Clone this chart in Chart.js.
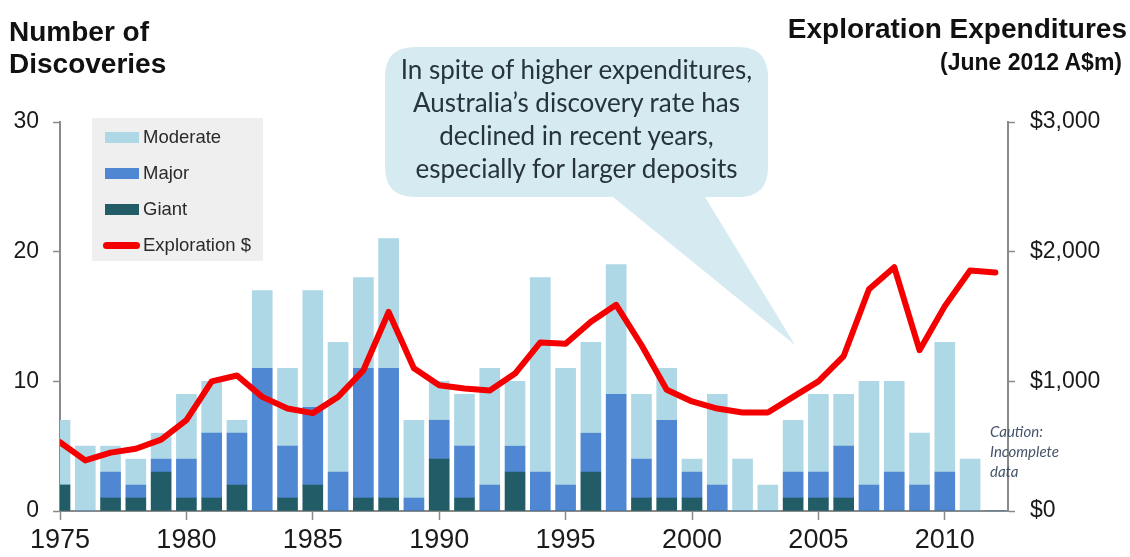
<!DOCTYPE HTML>
<html>
<head>
  <meta charset='utf-8'>
  <title>Discoveries vs exploration expenditure</title>
  <script src='https://cdn.jsdelivr.net/npm/chart.js'></script>
  <style>
    body { margin: 0; background: #fff; }
    #wrap { position: relative; width: 1130px; height: 557px; font-family: 'Liberation Sans', Arial, sans-serif; }
    #wrap canvas { position: absolute; left: 0; top: 0; }
    .ttl { position: absolute; font-weight: bold; color: #111; }
    #leftTitle { left: 9px; top: 16px; font-size: 28px; line-height: 32px; }
    #rightTitle { right: 3px; top: 13px; font-size: 28px; line-height: 32px; text-align: right; }
    #rightSub { right: 8px; top: 48px; font-size: 23px; line-height: 28px; }
    #bubble { position: absolute; left: 0; top: 0; }
    #bubbleText { position: absolute; left: 380px; top: 53px; width: 393px; text-align: center;
      font-family: Lato, 'Open Sans', sans-serif; font-size: 26px; line-height: 33px; color: #27343c; }
    #caution { position: absolute; left: 990px; top: 421px; font-family: Lato, sans-serif; font-style: italic;
      font-size: 15px; line-height: 20px; color: #44546a; }
    #legend { position: absolute; left: 92px; top: 118px; width: 171px; height: 143px; background: #efefef; }
    .lg-row { position: absolute; left: 0; height: 24px; width: 171px; }
    .lg-sw { position: absolute; left: 13px; width: 34px; }
    .lg-tx { position: absolute; left: 51px; top: 0; font-size: 18.5px; line-height: 24px; color: #2a2a2a; }
  </style>
</head>
<body>
  <div id='wrap'>
    <canvas id='chart'></canvas>
    <svg id='bubble' width='1130' height='557'>
      <path d='M 415 47 L 738 47 Q 768 47 768 77 L 768 167 Q 768 197 738 197 L 705 197 L 795 345 L 613 197 L 415 197 Q 385 197 385 167 L 385 77 Q 385 47 415 47 Z' fill='#d5eaf1'/>
    </svg>
    <div id='bubbleText'>In spite of higher expenditures,<br>Australia’s discovery rate has<br>declined in recent years,<br>especially for larger deposits</div>
    <div class='ttl' id='leftTitle'>Number of<br>Discoveries</div>
    <div class='ttl' id='rightTitle'>Exploration Expenditures</div>
    <div class='ttl' id='rightSub'>(June 2012 A$m)</div>
    <div id='caution'>Caution:<br>Incomplete<br>data</div>
    <div id='legend'></div>
  </div>
  <script>
    // data
    var years = [1975, 1976, 1977, 1978, 1979, 1980, 1981, 1982, 1983, 1984,
                 1985, 1986, 1987, 1988, 1989, 1990, 1991, 1992, 1993, 1994,
                 1995, 1996, 1997, 1998, 1999, 2000, 2001, 2002, 2003, 2004,
                 2005, 2006, 2007, 2008, 2009, 2010, 2011, 2012];
    var giant    = [2, 0, 1, 1, 3, 1, 1, 2, 0, 1, 2, 0, 1, 1, 0, 4, 1, 0, 3, 0,
                    0, 3, 0, 1, 1, 1, 0, 0, 0, 1, 1, 1, 0, 0, 0, 0, 0, 0];
    var major    = [0, 0, 2, 1, 1, 3, 5, 4, 11, 4, 6, 3, 10, 10, 1, 3, 4, 2, 2, 3,
                    2, 3, 9, 3, 6, 2, 2, 0, 0, 2, 2, 4, 2, 3, 2, 3, 0, 0];
    var moderate = [5, 5, 2, 2, 2, 5, 4, 1, 6, 6, 9, 10, 7, 10, 6, 3, 4, 9, 5, 15,
                    9, 7, 10, 5, 4, 1, 7, 4, 2, 4, 6, 4, 8, 7, 4, 10, 4, 0];
    // exploration expenditure, June 2012 A$m
    var exploration = [530, 390, 450, 480, 550, 700, 1000, 1045, 880, 790,
                       755, 880, 1085, 1535, 1100, 970, 945, 930, 1060, 1300,
                       1290, 1460, 1590, 1280, 935, 845, 790, 760, 760, 880,
                       1000, 1195, 1710, 1880, 1240, 1580, 1855, 1840];
    var xTickYears = [1975, 1980, 1985, 1990, 1995, 2000, 2005, 2010];
    var leftTicks = [0, 10, 20, 30];
    var rightTicks = [0, 1000, 2000, 3000];

    var colModerate = '#aed8e5';
    var colMajor = '#4f87d3';
    var colGiant = '#225c67';
    var colLine = '#f40000';
    var axisGrey = '#8a8a8a';
    var font = "'Liberation Sans', Arial, sans-serif";

    function pts(arr) {
      return years.map(function(y, i) { return { x: y, y: arr[i] }; });
    }

    function barSet(label, arr, color) {
      return {
        label: label,
        data: pts(arr),
        backgroundColor: color,
        borderWidth: 0,
        barThickness: 20,
        stack: 'disc',
        yAxisID: 'y',
        order: 1
      };
    }

    var axisGrid = { display: true, drawOnChartArea: false, offset: false, color: axisGrey, tickColor: axisGrey, tickWidth: 1.5 };

    var ctx = document.getElementById('chart').getContext('2d');
    var chart = new Chart(ctx, {
      type: 'bar',
      data: {
        datasets: [
          barSet('Giant', giant, colGiant),
          barSet('Major', major, colMajor),
          barSet('Moderate', moderate, colModerate),
          {
            type: 'line',
            label: 'Exploration $',
            data: pts(exploration),
            yAxisID: 'y2',
            borderColor: colLine,
            borderWidth: 6,
            pointRadius: 0,
            tension: 0,
            borderJoinStyle: 'round',
            borderCapStyle: 'round',
            order: 0
          }
        ]
      },
      options: {
        responsive: true,
        maintainAspectRatio: false,
        animation: false,
        layout: { padding: { top: 122, left: 0, right: 0, bottom: 0 } },
        plugins: { legend: { display: false }, tooltip: { enabled: false } },
        scales: {
          x: {
            type: 'linear',
            min: 1975,
            max: 2012.5,
            offset: false,
            grid: Object.assign({}, axisGrid, { tickLength: 9 }),
            border: { color: axisGrey, width: 2 },
            ticks: {
              font: { family: font, size: 27 },
              color: '#1a1a1a',
              padding: 4,
              maxRotation: 0,
              autoSkip: false,
              callback: function(v) { return String(v); }
            },
            afterBuildTicks: function(s) { s.ticks = xTickYears.map(function(v) { return { value: v }; }); },
            afterFit: function(s) { s.height = 46; }
          },
          y: {
            stacked: true,
            min: 0,
            max: 30,
            grid: Object.assign({}, axisGrid, { tickLength: 7 }),
            border: { color: axisGrey, width: 2 },
            ticks: {
              font: { family: font, size: 23 },
              color: '#1a1a1a',
              padding: 14
            },
            afterBuildTicks: function(s) { s.ticks = leftTicks.map(function(v) { return { value: v }; }); },
            afterFit: function(s) { s.width = 60; }
          },
          y2: {
            position: 'right',
            min: 0,
            max: 3000,
            grid: Object.assign({}, axisGrid, { tickLength: 7 }),
            border: { color: axisGrey, width: 2 },
            ticks: {
              font: { family: font, size: 23 },
              color: '#1a1a1a',
              padding: 15,
              callback: function(v) { return '$' + v.toLocaleString('en-US'); }
            },
            afterBuildTicks: function(s) { s.ticks = rightTicks.map(function(v) { return { value: v }; }); },
            afterFit: function(s) { s.width = 122; }
          }
        }
      }
    });

    // legend box, top to bottom as in the original
    var legendItems = [
      { label: 'Moderate', color: colModerate, line: false },
      { label: 'Major', color: colMajor, line: false },
      { label: 'Giant', color: colGiant, line: false },
      { label: 'Exploration $', color: colLine, line: true }
    ];
    var lg = document.getElementById('legend');
    legendItems.forEach(function(it, i) {
      var row = document.createElement('div');
      row.className = 'lg-row';
      row.style.top = (7 + i * 36) + 'px';
      var sw = document.createElement('div');
      sw.className = 'lg-sw';
      sw.style.background = it.color;
      if (it.line) {
        sw.style.height = '7px';
        sw.style.top = '9px';
        sw.style.borderRadius = '4px';
        sw.style.left = '11px';
        sw.style.width = '37px';
      } else {
        sw.style.height = '11px';
        sw.style.top = '7px';
      }
      var tx = document.createElement('div');
      tx.className = 'lg-tx';
      tx.textContent = it.label;
      row.appendChild(sw);
      row.appendChild(tx);
      lg.appendChild(row);
    });
  </script>
</body>
</html>
